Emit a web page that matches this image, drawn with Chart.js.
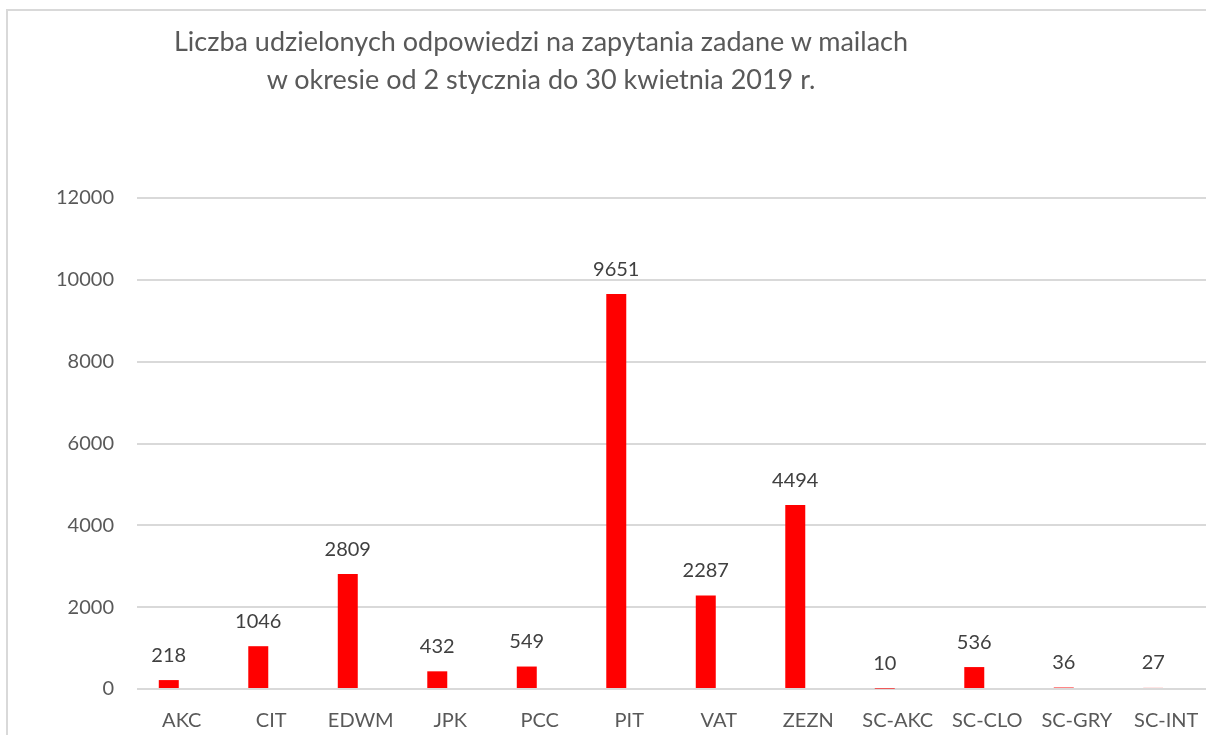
<!DOCTYPE html>
<html lang="pl">
<head>
<meta charset="utf-8">
<title>Liczba udzielonych odpowiedzi</title>
<script src="https://cdn.jsdelivr.net/npm/chart.js@4/dist/chart.umd.min.js"></script>
<style>
    html, body { margin: 0; padding: 0; background: #fff; overflow: hidden; }
    body { width: 1206px; height: 735px; position: relative; }
    .frame {
        position: absolute; left: 6px; top: 9px; width: 1300px; height: 800px;
        border-left: 2px solid #d9d9d9; border-top: 2px solid #d9d9d9;
    }
    .chart-title {
        position: absolute; left: 91px; width: 900px; top: 22px;
        text-align: center; font-family: Lato, sans-serif; font-size: 27px;
        line-height: 38px; color: #595959;
    }
    .chart-box { position: absolute; left: 0; top: 0; width: 1220px; height: 735px; }
</style>
</head>
<body>
<div class="frame"></div>
<div class="chart-box"><canvas id="chart"></canvas></div>
<div class="chart-title">Liczba udzielonych odpowiedzi na zapytania zadane w mailach<br>w okresie od 2 stycznia do 30 kwietnia 2019 r.</div>
<script>
document.addEventListener('DOMContentLoaded', () => {
    // --- Data ---
    const categories = ['AKC', 'CIT', 'EDWM', 'JPK', 'PCC', 'PIT', 'VAT', 'ZEZN', 'SC-AKC', 'SC-CLO', 'SC-GRY', 'SC-INT'];
    const answers = [218, 1046, 2809, 432, 549, 9651, 2287, 4494, 10, 536, 36, 27];
    // second (empty) series from the original sheet, keeps the bars shifted left
    const emptySeries = [null, null, null, null, null, null, null, null, null, null, null, null];
    const yTicks = [0, 2000, 4000, 6000, 8000, 10000, 12000];

    const FONT = 'Lato, sans-serif';
    const GRID = '#d9d9d9';

    // draw value labels above the bars
    const valueLabels = {
        id: 'valueLabels',
        afterDatasetsDraw(chart) {
            const ctx = chart.ctx;
            const meta = chart.getDatasetMeta(0);
            ctx.save();
            ctx.font = '20px ' + FONT;
            ctx.fillStyle = '#404040';
            ctx.textAlign = 'center';
            ctx.textBaseline = 'middle';
            meta.data.forEach((bar, i) => {
                ctx.fillText(String(answers[i]), bar.x, bar.y - 25);
            });
            ctx.restore();
        }
    };

    new Chart(document.getElementById('chart'), {
        type: 'bar',
        data: {
            labels: categories,
            datasets: [
                {
                    label: 'Liczba odpowiedzi',
                    data: answers,
                    backgroundColor: '#ff0000',
                    borderWidth: 0,
                    categoryPercentage: 0.58,
                    barPercentage: 0.77
                },
                {
                    label: '',
                    data: emptySeries,
                    backgroundColor: '#ff0000',
                    categoryPercentage: 0.58,
                    barPercentage: 0.77
                }
            ]
        },
        options: {
            responsive: true,
            maintainAspectRatio: false,
            animation: false,
            layout: { padding: { top: 198, right: 9, bottom: 0, left: 0 } },
            plugins: {
                legend: { display: false },
                title: { display: false },
                tooltip: { enabled: false }
            },
            scales: {
                x: {
                    grid: { display: false, drawTicks: false },
                    border: { display: false },
                    ticks: {
                        color: '#595959',
                        font: { family: FONT, size: 20 },
                        padding: 20,
                        maxRotation: 0
                    },
                    afterFit(scale) { scale.height = 46; }
                },
                y: {
                    min: 0,
                    max: 12000,
                    afterBuildTicks(scale) { scale.ticks = yTicks.map(v => ({ value: v })); },
                    grid: { color: GRID, lineWidth: 2, drawTicks: false },
                    border: { display: false },
                    ticks: {
                        color: '#595959',
                        font: { family: FONT, size: 20 },
                        padding: 23,
                        callback: (value) => String(value)
                    },
                    afterFit(scale) { scale.width = 137; }
                }
            }
        },
        plugins: [valueLabels]
    });
});
</script>
</body>
</html>
